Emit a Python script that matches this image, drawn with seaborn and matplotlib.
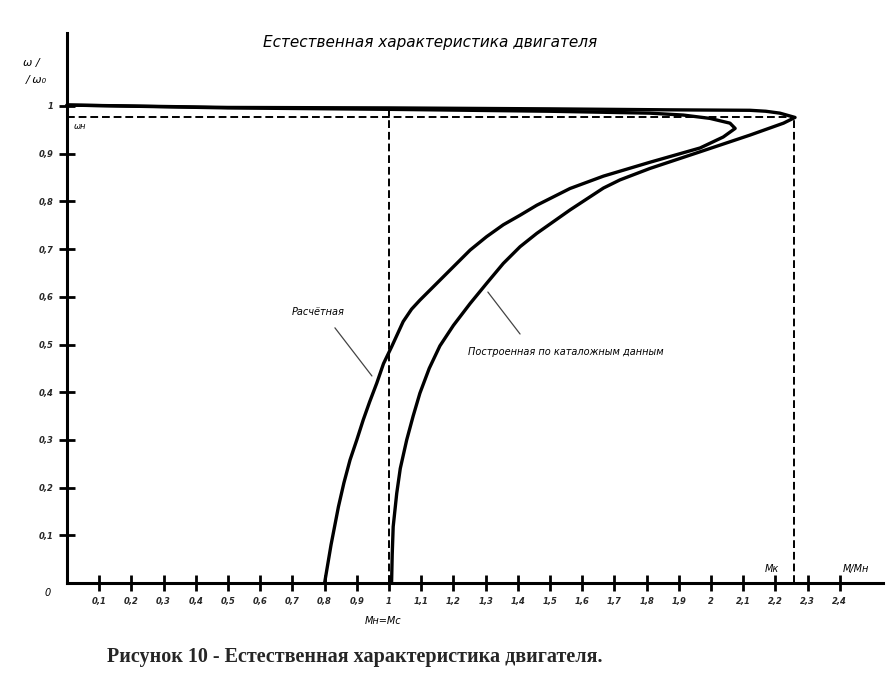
import numpy as np
import pandas as pd
import seaborn as sns
import matplotlib.pyplot as plt

# Calculated curve (Расчётная), from no-load through the breakdown point to start
calc_m = [0.0, 0.5, 1.0, 1.5, 1.81, 1.914, 1.997, 2.059, 2.075, 2.038, 1.966,
          1.81, 1.666, 1.562, 1.459, 1.407, 1.355, 1.303, 1.252, 1.20,
          1.148, 1.096, 1.07, 1.044, 1.008, 0.983, 0.962, 0.94, 0.920, 0.90,
          0.879, 0.86, 0.843, 0.82, 0.80]
calc_w = [1.002, 0.996, 0.993, 0.989, 0.985, 0.981, 0.974, 0.964, 0.953, 0.935,
          0.912, 0.882, 0.853, 0.827, 0.792, 0.771, 0.751, 0.726, 0.698,
          0.663, 0.628, 0.593, 0.574, 0.548, 0.495, 0.46, 0.419, 0.38, 0.342,
          0.30, 0.258, 0.21, 0.16, 0.08, 0.0]

# Curve built from catalogue data
cat_m = [0.0, 0.5, 1.0, 1.5, 1.862, 2.121, 2.17, 2.214, 2.261, 2.225, 2.121,
         1.966, 1.81, 1.717, 1.666, 1.562, 1.459, 1.407, 1.355, 1.303, 1.252,
         1.20, 1.158, 1.125, 1.096, 1.075, 1.055, 1.035, 1.024, 1.013, 1.01,
         1.008]
cat_w = [1.002, 0.997, 0.996, 0.994, 0.992, 0.991, 0.989, 0.985, 0.976, 0.964,
         0.939, 0.904, 0.869, 0.845, 0.828, 0.782, 0.733, 0.705, 0.67, 0.628,
         0.586, 0.54, 0.497, 0.45, 0.398, 0.35, 0.30, 0.24, 0.188, 0.118, 0.06,
         0.0]

# rated speed / critical torque markers
w_nom = 0.977
m_nom = 1.0
m_crit = 2.258

x_ticks = [0.1, 0.2, 0.3, 0.4, 0.5, 0.6, 0.7, 0.8, 0.9, 1.0, 1.1, 1.2, 1.3,
           1.4, 1.5, 1.6, 1.7, 1.8, 1.9, 2.0, 2.1, 2.2, 2.3, 2.4]
x_labels = ['0,1', '0,2', '0,3', '0,4', '0,5', '0,6', '0,7', '0,8', '0,9', '1',
            '1,1', '1,2', '1,3', '1,4', '1,5', '1,6', '1,7', '1,8', '1,9', '2',
            '2,1', '2,2', '2,3', '2,4']
y_ticks = [0.1, 0.2, 0.3, 0.4, 0.5, 0.6, 0.7, 0.8, 0.9, 1.0]
y_labels = ['0,1', '0,2', '0,3', '0,4', '0,5', '0,6', '0,7', '0,8', '0,9', '1']

sns.set_style('white')
plt.rcParams['font.family'] = ['DejaVu Sans']

calc_df = pd.DataFrame({'M': calc_m, 'w': calc_w})
cat_df = pd.DataFrame({'M': cat_m, 'w': cat_w})

fig = plt.figure(figsize=(8.87, 6.8), dpi=100)
ax = fig.add_axes([0, 0, 1, 1])
ax.set_xlim(-67 / 322, 820 / 322)
ax.set_ylim(-97 / 477, 583 / 477)

ln = dict(color='black', lw=2.4, sort=False, estimator=None)
sns.lineplot(data=calc_df, x='M', y='w', ax=ax, **ln)
sns.lineplot(data=cat_df, x='M', y='w', ax=ax, **ln)

dash = dict(color='black', lw=1.4, ls=(0, (4, 2)))
ax.plot([0, m_crit], [w_nom, w_nom], **dash)
ax.plot([m_nom, m_nom], [0, 0.995], **dash)
ax.plot([m_crit, m_crit], [0, w_nom], **dash)

# axes through the origin
for side in ['top', 'right']:
    ax.spines[side].set_visible(False)
ax.spines['left'].set_position(('data', 0))
ax.spines['bottom'].set_position(('data', 0))
ax.spines['left'].set_bounds(0, 1.153)
ax.spines['bottom'].set_bounds(0, 2.534)
for side in ['left', 'bottom']:
    ax.spines[side].set_linewidth(2.2)
    ax.spines[side].set_color('black')

ax.set_xticks(x_ticks, labels=x_labels)
ax.set_yticks(y_ticks, labels=y_labels)
ax.tick_params(axis='both', bottom=True, left=True, direction='inout',
               length=12, width=2, color='black', labelsize=6, pad=4)
for lab in ax.get_xticklabels() + ax.get_yticklabels():
    lab.set_fontstyle('italic')
    lab.set_fontweight('bold')
ax.set_xlabel('')
ax.set_ylabel('')

it = dict(fontstyle='italic', color='black')
ax.text(1.127, 1.134, 'Естественная характеристика двигателя', ha='center',
        va='center', fontsize=11, **it)
ax.text(-0.11, 1.09, 'ω /', ha='center', va='center', fontsize=8, **it)
ax.text(-0.095, 1.055, '/ ω₀', ha='center', va='center', fontsize=8, **it)
ax.text(0.04, 0.958, 'ωн', ha='center', va='center', fontsize=6, **it)
ax.text(-0.06, -0.02, '0', ha='center', va='center', fontsize=7, **it)
ax.text(0.98, -0.08, 'Mн=Mс', ha='center', va='center', fontsize=7, **it)
ax.text(2.19, 0.03, 'Mк', ha='center', va='center', fontsize=7, **it)
ax.text(2.45, 0.03, 'M/Mн', ha='center', va='center', fontsize=7, **it)

ax.text(0.78, 0.568, 'Расчётная', ha='center', va='center', fontsize=7, **it)
ax.plot([0.832, 0.947], [0.535, 0.434], color='#444444', lw=0.9)
ax.text(1.55, 0.484, 'Построенная по каталожным данным', ha='center',
        va='center', fontsize=7, **it)
ax.plot([1.307, 1.407], [0.610, 0.522], color='#444444', lw=0.9)

fig.text(0.40, 0.034, 'Рисунок 10 - Естественная характеристика двигателя.',
         ha='center', va='center', fontsize=14.5, fontweight='bold',
         family=['Liberation Serif', 'DejaVu Serif'])

fig.savefig('out.png', dpi=100)
